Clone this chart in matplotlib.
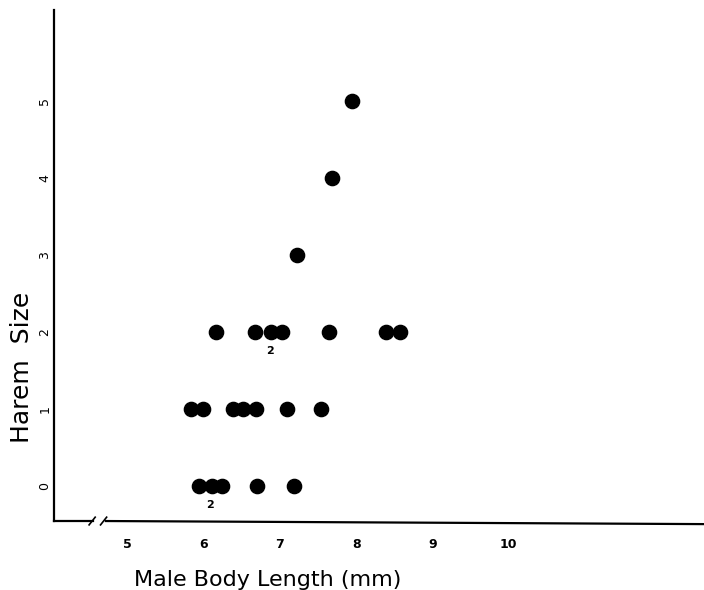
import matplotlib.pyplot as plt

# male body length (mm) and harem size, one entry per dot
body_length = [5.94, 6.11, 6.24, 6.70, 7.18,
               5.83, 5.99, 6.39, 6.52, 6.69, 7.10, 7.54,
               6.16, 6.68, 6.89, 7.03, 7.65, 8.39, 8.57,
               7.23, 7.69, 7.94]
harem_size = [0, 0, 0, 0, 0,
              1, 1, 1, 1, 1, 1, 1,
              2, 2, 2, 2, 2, 2, 2,
              3, 4, 5]

# dots that stand for two males
count_x = [6.89, 6.11]
count_y = [2, 0]
count_text = ["2", "2"]

x_ticks = [5, 6, 7, 8, 9, 10]
y_ticks = [0, 1, 2, 3, 4, 5]

fig = plt.figure(figsize=(7.04, 5.90), dpi=100)
ax = fig.add_axes([0.0767, 0.1169, 0.9233, 0.8661])

ax.scatter(body_length, harem_size, s=105, color="black", zorder=3)
for cx, cy, t in zip(count_x, count_y, count_text):
    ax.text(cx - 0.02, cy - 0.24, t, ha="center", va="center",
            fontsize=8, fontweight="bold")

x0, x1 = 4.04, 12.56
ax.set_xlim(x0, x1)
ax.set_ylim(-0.45, 6.18)

for s in ["top", "right", "bottom"]:
    ax.spines[s].set_visible(False)
ax.spines["left"].set_linewidth(1.6)

# broken x axis, slightly tilted like the scan
ax.plot([x0, 4.55], [-0.45, -0.45], color="black", lw=1.6, clip_on=False)
ax.plot([4.72, x1], [-0.45, -0.49], color="black", lw=1.6, clip_on=False)
ax.plot([4.50, 4.58], [-0.50, -0.40], color="black", lw=1.2, clip_on=False)
ax.plot([4.65, 4.73], [-0.50, -0.40], color="black", lw=1.2, clip_on=False)

ax.set_xticks(x_ticks)
ax.set_xticklabels([str(v) for v in x_ticks], fontsize=9, fontweight="bold")
ax.set_yticks(y_ticks)
ax.set_yticklabels([str(v) for v in y_ticks], fontsize=9, rotation=90,
                   va="center")
ax.tick_params(axis="x", length=0, pad=12)
ax.tick_params(axis="y", length=0, pad=2)

ax.set_xlabel("Male Body Length (mm)", fontsize=16, labelpad=12)
ax.xaxis.set_label_coords(0.329, -0.095)
ax.set_ylabel("Harem  Size", fontsize=18)
ax.yaxis.set_label_coords(-0.03, 0.30)

fig.savefig("out.png", dpi=100)
